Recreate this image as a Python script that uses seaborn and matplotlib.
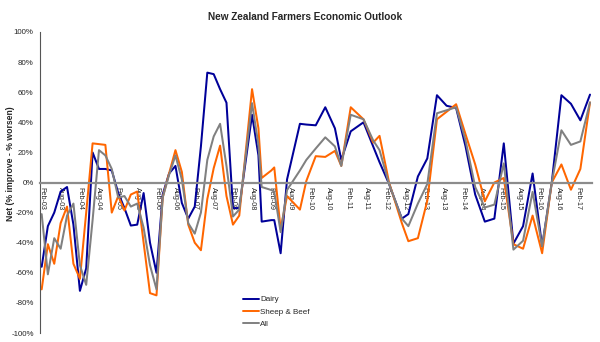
import matplotlib
matplotlib.use("Agg")
import matplotlib.pyplot as plt
import seaborn as sns
import pandas as pd
from matplotlib.lines import Line2D

# ---- data ----
dates = ["2003-02","2003-04","2003-06","2003-08","2003-10","2003-12",
         "2004-02","2004-04","2004-06","2004-08","2004-10","2004-12",
         "2005-02","2005-04","2005-06","2005-08","2005-10","2005-12",
         "2006-02","2006-04","2006-06","2006-08","2006-10","2006-12",
         "2007-02","2007-04","2007-06","2007-08","2007-10","2007-12",
         "2008-02","2008-04","2008-08","2008-10","2008-11",
         "2009-02","2009-03","2009-05","2009-07","2009-11",
         "2010-01","2010-04","2010-07","2010-10","2010-12",
         "2011-03","2011-07","2011-10","2011-12",
         "2012-03","2012-07","2012-09","2012-12",
         "2013-03","2013-06","2013-09","2013-12",
         "2014-03","2014-06","2014-09","2014-12",
         "2015-03","2015-06","2015-09","2015-12",
         "2016-03","2016-06","2016-09","2016-12",
         "2017-03","2017-06"]

dairy = [-56,-29,-20,-6,-3,-28,
         -72,-57,20,9,9,8,
         -7,-17,-28.6,-28,-7,-40,
         -60,-8,6,11,-13.6,-24,
         -16,24,73,72,62,53,
         -17,-17,45,18,-26,
         -25,-25,-47,2,39,
         38.5,38,50,36,15,
         34,40,24,13.5,
         -1,-24,-21,4,
         16,58,51,49.5,
         24,-8,-26,-24,
         26,-40.6,-29,6,
         -42.4,0,58,52.3,
         41.3,58.4]

sheep_beef = [-71,-41,-54,-27,-16,-54,
              -64,-20,26,25.5,25,-20,
              -9,-18.6,-8,-6,-40,-73.5,
              -75,-10,6,21.5,7,-28,
              -40,-45,-11,9.5,24.5,-9,
              -28,-22,62,36,3,
              8,10,-31,-9,-18,
              1,17.5,17,21,11,
              50,42,26.5,31,
              0,-27,-39,-37,
              -12,42,47,52,
              32,12,-12.5,0,
              3,-41,-44,-22,
              -47,0,12,-4.8,
              9,53.2]

all_farmers = [-21,-61,-37,-44,-22,-14,
               -55,-68,-25,21.5,18,9,
               -10,-9,-16,-14,-30,-55,
               -71,-10,5,18,2,-27,
               -34,-20,15,30.6,39,11,
               -22.6,-18,52.7,25,-3,
               -5,-6,-33,-5,8,
               15,22.6,30,24,11,
               45,42,28,21.5,
               -1,-24,-29,-14,
               -1,46,48,50,
               28,-3,-16.6,-14.7,
               12.7,-44.6,-38.7,-6.2,
               -42.4,0,34.7,25,
               27.3,53.2]

series_names = ["Dairy", "Sheep & Beef", "All"]
series_colors = ["#000099", "#FF6600", "#808080"]
y_ticks = [-100, -80, -60, -40, -20, 0, 20, 40, 60, 80, 100]
tick_years = list(range(2003, 2018))

title = "New Zealand Farmers Economic Outlook"
y_label = "Net (% improve - % worsen)"

# ---- build long table ----
d = pd.to_datetime(dates, format="%Y-%m")
df = pd.concat([
    pd.DataFrame({"date": d, "value": vals, "series": name})
    for name, vals in zip(series_names, [dairy, sheep_beef, all_farmers])
], ignore_index=True)

sns.set_style("white")
plt.rcParams["font.family"] = ["Liberation Sans", "DejaVu Sans"]

fig = plt.figure(figsize=(6, 3.42), dpi=100)
ax = fig.add_axes([40/600, 1 - 333/342, 552/600, 301/342])
ax.set_axisbelow(True)

sns.lineplot(data=df, x="date", y="value", hue="series",
             palette=dict(zip(series_names, series_colors)),
             hue_order=series_names, sort=False, estimator=None,
             linewidth=1.45, ax=ax, legend=False)

ax.set_ylim(-100, 100)
ax.set_yticks(y_ticks)
ax.set_yticklabels([f"{v}%" for v in y_ticks])
ax.set_xlim(pd.Timestamp("2003-01-16"), pd.Timestamp("2017-06-20"))

tick_dates = []
tick_labels = []
for yr in tick_years:
    for mo, nm in [(2, "Feb"), (8, "Aug")]:
        t = pd.Timestamp(year=yr, month=mo, day=1)
        if t <= pd.Timestamp("2017-02-01"):
            tick_dates.append(t)
            tick_labels.append(f"{nm}-{str(yr)[2:]}")
ax.set_xticks(tick_dates)
ax.set_xticklabels(tick_labels)

ax.set_xlabel("")
ax.set_ylabel("")

for s in ["top", "right"]:
    ax.spines[s].set_visible(False)
ax.spines["left"].set_color("#555555")
ax.spines["left"].set_linewidth(0.8)
ax.spines["bottom"].set_position(("data", 0))
ax.spines["bottom"].set_color("#8c8c8c")
ax.spines["bottom"].set_linewidth(1.6)

ax.tick_params(axis="y", direction="out", length=2.5, width=0.8, color="#555555",
               pad=2, labelsize=5.7)
ax.tick_params(axis="x", direction="out", length=2, width=0.8, color="#8c8c8c",
               pad=1.5, labelsize=5.2, labelrotation=-90)

fig.text(0.508, 0.951, title, ha="center", va="center", fontsize=7.2, fontweight="bold")
fig.text(0.017, 0.52, y_label, rotation=90, ha="center", va="center", fontsize=6.2,
         fontweight="bold")

handles = [Line2D([0], [0], color=c, lw=1.4) for c in series_colors]
fig.legend(handles, series_names, loc="upper left", bbox_to_anchor=(0.405, 0.135),
           frameon=False, fontsize=5.8, handlelength=2.0, handletextpad=0.15,
           labelspacing=0.55, borderpad=0, borderaxespad=0)

fig.savefig("out.png", dpi=100, facecolor="white")
